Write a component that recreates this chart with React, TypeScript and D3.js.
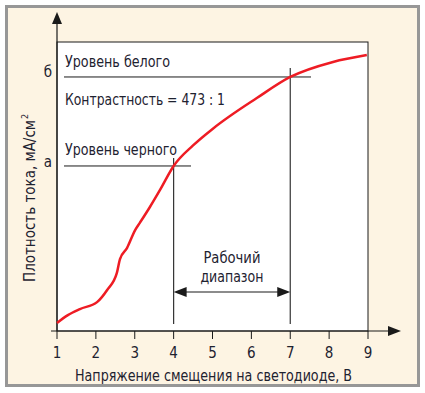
import React from "react";
import * as d3 from "d3";

// Data
const voltages = [1.0, 1.28, 1.59, 2.03, 2.29, 2.54, 2.62, 2.8, 3.01, 3.13, 3.39, 3.65, 4.0, 4.5, 5.01, 6.14, 7.0, 8.1, 8.97];
const density = [0.28, 0.55, 0.76, 1.0, 1.42, 2.01, 2.49, 2.87, 3.49, 3.74, 4.29, 4.88, 5.71, 6.42, 7.0, 8.06, 8.79, 9.31, 9.55];
const xTicks = [1, 2, 3, 4, 5, 6, 7, 8, 9];
const levelValues = [5.71, 8.79]; // а (black), б (white)
const levelLetters = ["а", "б"];
const rangeVolts = [4, 7];

const W = 425;
const H = 393;
const FONT = "'DejaVu Sans Condensed', 'Liberation Sans Narrow', Arial, sans-serif";
const TXT = "#1e2230";

export default function App() {
  const x = d3.scaleLinear().domain([1, 9]).range([57, 368]);
  const y = d3.scaleLinear().domain([0, 10]).range([331, 42]);
  const pts: [number, number][] = voltages.map((v, i) => [v, density[i]]);
  const line = d3
    .line<[number, number]>()
    .x((d) => x(d[0]))
    .y((d) => y(d[1]))
    .curve(d3.curveMonotoneX);

  const yBlack = y(levelValues[0]);
  const yWhite = y(levelValues[1]);
  const xA = x(rangeVolts[0]);
  const xB = x(rangeVolts[1]);
  const arrowY = 292;

  return (
    <svg
      width={W}
      height={H}
      style={{ position: "absolute", left: 0, top: 0 }}
      fontFamily={FONT}
    >
      <rect x={0} y={0} width={W} height={H} fill="#ffffff" />
      <rect x={6.5} y={6.5} width={412} height={379} fill="#fdf4e3" stroke="#979797" strokeWidth={3} />
      {/* plot area */}
      <rect x={x(1)} y={y(10)} width={x(9) - x(1)} height={y(0) - y(10)} fill="#ffffff" stroke="#1a1a1a" strokeWidth={1} />

      {/* y axis */}
      <line x1={x(1)} x2={x(1)} y1={22} y2={331} stroke="#1a1a1a" strokeWidth={1.2} />
      <path d={`M${x(1)},12 L${x(1) - 5},24 L${x(1) + 5},24 Z`} fill="#1a1a1a" />
      {/* x axis */}
      <line x1={51} x2={390} y1={y(0)} y2={y(0)} stroke="#1a1a1a" strokeWidth={1.2} />
      <path d={`M401,${y(0)} L388,${y(0) - 5} L388,${y(0) + 5} Z`} fill="#1a1a1a" />
      {xTicks.map((t) => (
        <g key={t}>
          <line x1={x(t)} x2={x(t)} y1={y(0)} y2={y(0) + 8} stroke="#1a1a1a" strokeWidth={1} />
          <text x={x(t)} y={358} textAnchor="middle" fontSize={15} fill={TXT}>
            {t}
          </text>
        </g>
      ))}

      {/* level lines */}
      <line x1={64} x2={191} y1={yBlack} y2={yBlack} stroke="#1a1a1a" strokeWidth={1} />
      <line x1={64} x2={311} y1={yWhite} y2={yWhite} stroke="#1a1a1a" strokeWidth={1} />
      <text x={48} y={yBlack + 1} textAnchor="middle" fontSize={15} fill={TXT}>{levelLetters[0]}</text>
      <text x={48} y={yWhite} textAnchor="middle" fontSize={15} fill={TXT}>{levelLetters[1]}</text>

      {/* vertical range lines */}
      <line x1={xA} x2={xA} y1={yBlack - 8} y2={324} stroke="#333" strokeWidth={1.2} />
      <line x1={xB} x2={xB} y1={yWhite - 9} y2={324} stroke="#333" strokeWidth={1.2} />

      {/* range arrow */}
      <line x1={xA + 8} x2={xB - 8} y1={arrowY} y2={arrowY} stroke="#1a1a1a" strokeWidth={1.2} />
      <path d={`M${xA},${arrowY} L${xA + 13},${arrowY - 5} L${xA + 13},${arrowY + 5} Z`} fill="#1a1a1a" />
      <path d={`M${xB},${arrowY} L${xB - 13},${arrowY - 5} L${xB - 13},${arrowY + 5} Z`} fill="#1a1a1a" />
      <text x={(xA + xB) / 2} y={263} textAnchor="middle" fontSize={16} fill={TXT} textLength={57} lengthAdjust="spacingAndGlyphs">Рабочий</text>
      <text x={(xA + xB) / 2} y={282} textAnchor="middle" fontSize={16} fill={TXT} textLength={63} lengthAdjust="spacingAndGlyphs">диапазон</text>

      {/* curve */}
      <path d={line(pts) || ""} fill="none" stroke="#ee1c24" strokeWidth={2.5} strokeLinejoin="round" />

      {/* annotations */}
      <text x={65} y={67} fontSize={16} fill={TXT} textLength={105} lengthAdjust="spacingAndGlyphs">Уровень белого</text>
      <text x={65} y={105} fontSize={16} fill={TXT} textLength={160} lengthAdjust="spacingAndGlyphs">Контрастность = 473 : 1</text>
      <text x={65} y={155} fontSize={16} fill={TXT} textLength={112} lengthAdjust="spacingAndGlyphs">Уровень черного</text>

      {/* axis titles */}
      <text x={75} y={381} fontSize={16} fill={TXT} textLength={277} lengthAdjust="spacingAndGlyphs">
        Напряжение смещения на светодиоде, В
      </text>
      <g transform="translate(35,282) rotate(-90)">
        <text x={0} y={0} fontSize={16} fill={TXT} textLength={162} lengthAdjust="spacingAndGlyphs">
          Плотность тока, мА/см
        </text>
        <text x={163} y={-7} fontSize={9} fill={TXT}>2</text>
      </g>
    </svg>
  );
}
